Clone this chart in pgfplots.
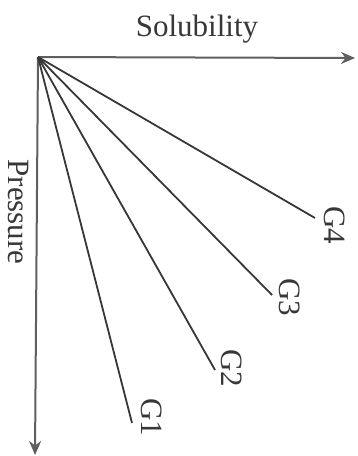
\documentclass[border=0pt]{standalone}
\usepackage{fontspec}
\setmainfont{Liberation Serif}
\usepackage{pgfplots}
\pgfplotsset{compat=1.18}
\usetikzlibrary{arrows.meta}
\definecolor{ink}{RGB}{55,55,55}
\definecolor{axgray}{RGB}{95,95,95}
\tikzset{lbl/.style={font=\fontsize{15.5}{18}\selectfont, text=ink, inner sep=0pt}}

\begin{document}
\begin{tikzpicture}
\begin{axis}[width=178.5pt, height=228pt, scale only axis,
  axis lines=none, clip=false,
  xmin=-38, xmax=319, ymin=-57, ymax=399, y dir=reverse]
  % frame corners, keep the page size
  \addplot[draw=none] coordinates {(-38,-57) (319,399)};
  % axes
  \addplot[axgray, line width=1pt, -{Stealth[length=7pt, width=6pt]}] coordinates {(0,0) (317,1)};
  \addplot[axgray, line width=1pt, -{Stealth[length=7pt, width=6pt]}] coordinates {(0,0) (-3,398)};
  % gas lines
  \addplot[ink, line width=0.9pt] coordinates {(0,0) (94,366)};
  \addplot[ink, line width=0.9pt] coordinates {(0,0) (177,313)};
  \addplot[ink, line width=0.9pt] coordinates {(0,0) (234,238)};
  \addplot[ink, line width=0.9pt] coordinates {(0,0) (277,161)};
  \node[lbl] at (axis cs:159,-28) {Solubility};
  \node[lbl, rotate=-90, text depth=0pt] at (axis cs:-19,155) {Pressure};
  \node[lbl, rotate=-90] at (axis cs:114,360) {G1};
  \node[lbl, rotate=-90] at (axis cs:194,311) {G2};
  \node[lbl, rotate=-90] at (axis cs:252,240) {G3};
  \node[lbl, rotate=-90] at (axis cs:297,168) {G4};
\end{axis}
\end{tikzpicture}
\end{document}
